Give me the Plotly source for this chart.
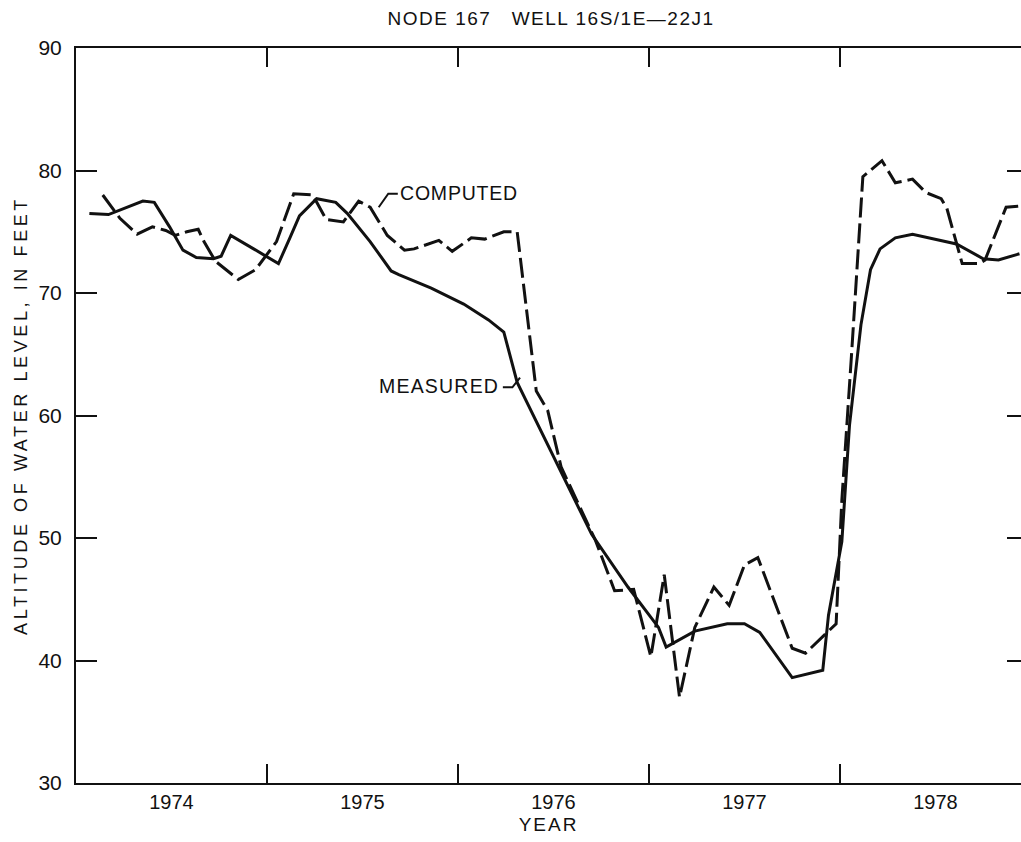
import plotly.graph_objects as go

# ---- data ----
measured_year = [1974.07, 1974.17, 1974.35, 1974.41, 1974.49, 1974.56, 1974.63, 1974.72,
                 1974.76, 1974.81, 1974.93, 1975.06, 1975.12, 1975.17, 1975.26, 1975.36,
                 1975.42, 1975.54, 1975.65, 1975.69, 1975.86, 1976.03, 1976.16, 1976.24,
                 1976.31, 1976.55, 1976.70, 1976.89, 1977.05, 1977.09, 1977.24, 1977.41,
                 1977.50, 1977.58, 1977.75, 1977.91, 1977.94, 1978.01, 1978.05, 1978.11,
                 1978.16, 1978.21, 1978.29, 1978.38, 1978.61, 1978.75, 1978.83, 1978.94]
measured_level = [76.5, 76.4, 77.5, 77.4, 75.4, 73.5, 72.9, 72.8,
                  73.0, 74.7, 73.6, 72.4, 74.5, 76.3, 77.7, 77.4,
                  76.5, 74.2, 71.8, 71.5, 70.4, 69.1, 67.8, 66.8,
                  62.7, 55.1, 50.3, 46.0, 42.7, 41.1, 42.4, 43.0,
                  43.0, 42.3, 38.6, 39.2, 43.7, 49.7, 59.2, 67.4,
                  71.9, 73.6, 74.5, 74.8, 74.0, 72.8, 72.7, 73.2]

computed_year = [1974.14, 1974.23, 1974.32, 1974.40, 1974.47, 1974.52, 1974.58, 1974.64,
                 1974.67, 1974.73, 1974.85, 1974.94, 1975.05, 1975.14, 1975.24, 1975.31,
                 1975.40, 1975.48, 1975.54, 1975.63, 1975.72, 1975.77, 1975.90, 1975.97,
                 1976.07, 1976.14, 1976.24, 1976.31, 1976.41, 1976.47, 1976.54, 1976.72,
                 1976.82, 1976.92, 1977.01, 1977.08, 1977.16, 1977.24, 1977.34, 1977.42,
                 1977.50, 1977.57, 1977.75, 1977.82, 1977.98, 1978.01, 1978.06, 1978.12,
                 1978.22, 1978.29, 1978.38, 1978.45, 1978.53, 1978.56, 1978.64, 1978.73,
                 1978.76, 1978.87, 1978.94]
computed_level = [78.0, 76.1, 74.8, 75.4, 75.1, 74.7, 75.0, 75.2,
                  74.2, 72.6, 71.1, 71.9, 74.2, 78.1, 78.0, 76.0,
                  75.8, 77.5, 77.0, 74.7, 73.5, 73.6, 74.3, 73.4,
                  74.5, 74.4, 75.0, 75.0, 62.0, 60.4, 55.8, 49.8,
                  45.7, 45.8, 40.3, 47.0, 37.0, 42.7, 46.0, 44.5,
                  47.8, 48.4, 41.0, 40.6, 43.0, 53.1, 64.8, 79.5,
                  80.8, 79.0, 79.3, 78.2, 77.7, 76.9, 72.4, 72.4,
                  72.7, 77.0, 77.1]

year_labels = ["1974", "1975", "1976", "1977", "1978"]
year_label_pos = [1974.5, 1975.5, 1976.5, 1977.5, 1978.5]
year_boundaries = [1975, 1976, 1977, 1978]
y_ticks = [30, 40, 50, 60, 70, 80, 90]

FONT = "Liberation Sans, Arial, Helvetica, sans-serif"
INK = "#111111"


def spaced(text, px):
    return f'<span style="letter-spacing:{px}px">{text}</span>'


fig = go.Figure()
fig.add_trace(go.Scatter(x=measured_year, y=measured_level, mode="lines",
                         name="MEASURED", line=dict(color=INK, width=3)))
fig.add_trace(go.Scatter(x=computed_year, y=computed_level, mode="lines",
                         name="COMPUTED", line=dict(color=INK, width=3, dash="20px,6px")))
# invisible trace so the right-hand tick axis is rendered
fig.add_trace(go.Scatter(x=[None], y=[None], yaxis="y2", showlegend=False, hoverinfo="skip"))

fig.update_layout(
    width=1021, height=842,
    margin=dict(l=76, r=0, t=48, b=59),
    paper_bgcolor="white", plot_bgcolor="white",
    showlegend=False,
    font=dict(family=FONT, size=20, color=INK),
    title=dict(text=spaced("NODE 167   WELL 16S/1E\u201422J1", 1.5), x=551 / 1021,
               xanchor="center", y=1 - 18 / 842, yanchor="middle",
               xref="container", yref="container",
               font=dict(family=FONT, size=19, color=INK)),
    xaxis=dict(range=[1974, 1978.948], showgrid=False, zeroline=False,
               showline=True, linecolor=INK, linewidth=2, mirror="ticks",
               tickmode="array", tickvals=year_label_pos, ticktext=year_labels,
               ticks="", tickfont=dict(size=20),
               minor=dict(tickmode="array", tickvals=year_boundaries, ticks="inside",
                          ticklen=19, tickwidth=2, tickcolor=INK, showgrid=False),
               title=dict(text=spaced("YEAR", 2), standoff=6, font=dict(size=19))),
    yaxis=dict(range=[30, 90], showgrid=False, zeroline=False,
               showline=True, linecolor=INK, linewidth=2,
               tickmode="array", tickvals=y_ticks, ticks="inside", ticklen=21,
               tickwidth=2, tickcolor=INK, tickfont=dict(size=21),
               ticklabelstandoff=8,
               title=dict(text=spaced("ALTITUDE OF WATER LEVEL, IN FEET", 3.6), standoff=6,
                          font=dict(size=18))),
    yaxis2=dict(range=[30, 90], overlaying="y", side="right", showgrid=False,
                zeroline=False, showline=False, tickmode="array", tickvals=y_ticks,
                ticks="inside", ticklen=14, tickwidth=2, tickcolor=INK,
                showticklabels=False),
)

fig.add_annotation(x=1975.686, y=78.2, text=spaced("COMPUTED", 0.8), showarrow=False,
                   xanchor="left", yanchor="middle", font=dict(size=19.5, color=INK))
fig.add_annotation(x=1976.225, y=62.4, text=spaced("MEASURED", 1.2), showarrow=False,
                   xanchor="right", yanchor="middle", font=dict(size=19.5, color=INK))
fig.add_shape(type="path", path="M 1975.685,78.1 L 1975.635,78.1 L 1975.585,77.0",
              line=dict(color=INK, width=2))
fig.add_shape(type="path", path="M 1976.235,62.3 L 1976.285,62.3 L 1976.325,63.1",
              line=dict(color=INK, width=2))

fig.write_html("out.html")
